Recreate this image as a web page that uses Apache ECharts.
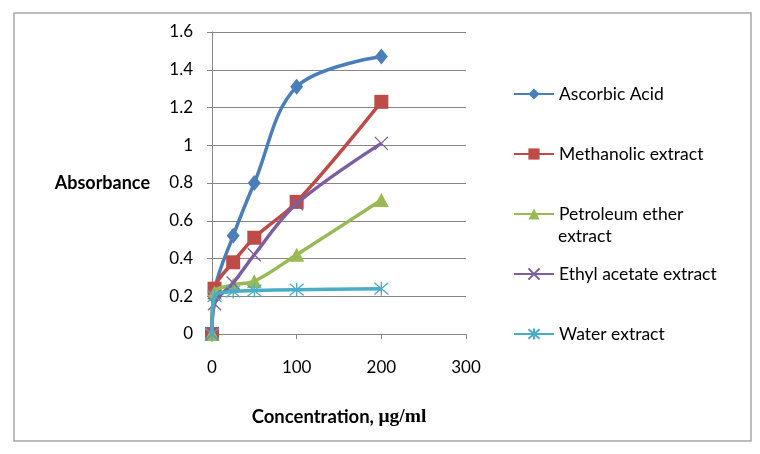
<!DOCTYPE html>
<html>
<head>
<meta charset="utf-8">
<script src="https://cdn.jsdelivr.net/npm/echarts@6/dist/echarts.min.js"></script>
<style>html,body{margin:0;padding:0;background:#fff}#c{width:760px;height:454px}</style>
</head>
<body>
<div id="c"></div>
<script>
const concentrations = [0, 3, 25, 50, 100, 200];
const ascorbicAcid = [0, 0.23, 0.52, 0.80, 1.31, 1.47];
const methanolic = [0, 0.24, 0.38, 0.51, 0.70, 1.23];
const petroleumEther = [0, 0.22, 0.26, 0.28, 0.42, 0.71];
const ethylAcetate = [0, 0.16, 0.27, 0.42, 0.69, 1.01];
const water = [0, 0.20, 0.225, 0.23, 0.235, 0.24];
const seriesNames = ['Ascorbic Acid', 'Methanolic extract', 'Petroleum ether extract', 'Ethyl acetate extract', 'Water extract'];
const xTicks = [0, 100, 200, 300];
const yTicks = [0, 0.2, 0.4, 0.6, 0.8, 1, 1.2, 1.4, 1.6];

const FONT = 'Lato';
const colors = ['#4A7EBB', '#BE4B48', '#98B954', '#7D5FA0', '#4BACC6'];
const symbols = ['diamond', 'rect', 'triangle',
  'path://M0,0L10,10M10,0L0,10',
  'path://M0,0L10,10M10,0L0,10M5,-1L5,11'];
const sizes = [[13, 16], 14, [15, 14], 13, 14];
const allData = [ascorbicAcid, methanolic, petroleumEther, ethylAcetate, water];

const series = allData.map((vals, i) => ({
  name: seriesNames[i],
  type: 'line',
  data: concentrations.map((x, j) => [x, vals[j]]),
  smooth: 0.35,
  symbol: symbols[i],
  symbolSize: sizes[i],
  showSymbol: true,
  lineStyle: { color: colors[i], width: 3.5 },
  itemStyle: i >= 3 ? { color: colors[i], borderColor: colors[i], borderWidth: 1.3 } : { color: colors[i] },
  z: 2 + i
}));

const legendTops = [80, 140, 200, 260, 320];
const legends = seriesNames.map((n, i) => ({
  data: [n],
  left: 508,
  top: legendTops[i],
  itemWidth: 40,
  itemHeight: 14,
  itemGap: 5,
  formatter: (name) => name === 'Petroleum ether extract' ? 'Petroleum ether' : name,
  textStyle: { fontFamily: FONT, fontSize: 17.5, color: '#000' },
  selectedMode: false
}));

const chart = echarts.init(document.getElementById('c'), null, { renderer: 'canvas' });
chart.setOption({
  animation: false,
  backgroundColor: '#fff',
  grid: { left: 212, right: 294, top: 32, bottom: 120 },
  xAxis: {
    type: 'value', min: xTicks[0], max: xTicks[xTicks.length - 1], interval: 100,
    name: '{a|Concentration, }{b|μg/ml}', nameLocation: 'middle', nameGap: 73,
    nameTextStyle: { rich: {
      a: { fontFamily: FONT, fontWeight: 'bold', fontSize: 18.5, color: '#000' },
      b: { fontFamily: 'Liberation Serif', fontWeight: 'bold', fontSize: 19.5, color: '#000' } } },
    axisLine: { show: true, lineStyle: { color: '#868686', width: 1 } },
    axisTick: { show: true, length: 5, lineStyle: { color: '#868686' } },
    axisLabel: { margin: 25, fontFamily: FONT, fontSize: 17, color: '#000' },
    splitLine: { show: false }
  },
  yAxis: {
    type: 'value', min: yTicks[0], max: yTicks[yTicks.length - 1], interval: 0.2,
    name: 'Absorbance', nameLocation: 'middle', nameRotate: 0, nameGap: 62,
    nameTextStyle: { fontFamily: FONT, fontWeight: 'bold', fontSize: 18, color: '#000', align: 'right' },
    axisLine: { show: true, lineStyle: { color: '#868686', width: 1 } },
    axisTick: { show: true, length: 5, lineStyle: { color: '#868686' } },
    axisLabel: { margin: 19, fontFamily: FONT, fontSize: 17, color: '#000',
      formatter: v => String(Math.round(v * 10) / 10) },
    splitLine: { show: true, lineStyle: { color: '#868686', width: 1 } }
  },
  legend: legends,
  graphic: [
    { type: 'rect', shape: { x: 14, y: 13, width: 737, height: 428 }, style: { fill: 'none', stroke: '#a6a6a6', lineWidth: 1.5 }, silent: true },
    { type: 'text', left: 558, top: 227, style: { text: 'extract', fontFamily: FONT, fontSize: 17.5, fill: '#000' } }
  ],
  series: series
});
</script>
</body>
</html>
